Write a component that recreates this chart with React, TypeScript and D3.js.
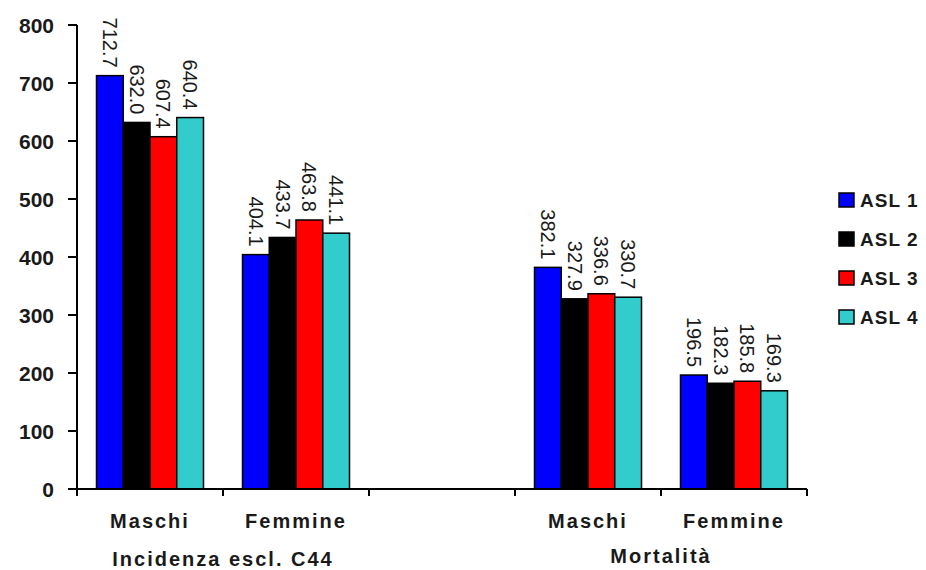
import React from "react";
import * as d3 from "d3";

// Rates per 100,000 by ASL, two sex groups for incidence and mortality
const categories = ["Maschi", "Femmine", "", "Maschi ", "Femmine "];
const groupLabels = ["Incidenza escl. C44", "Mortalità"];
const series = ["ASL 1", "ASL 2", "ASL 3", "ASL 4"];
const colors = ["#0000ff", "#000000", "#ff0000", "#33cccc"];

const asl1 = [712.7, 404.1, null, 382.1, 196.5];
const asl2 = [632.0, 433.7, null, 327.9, 182.3];
const asl3 = [607.4, 463.8, null, 336.6, 185.8];
const asl4 = [640.4, 441.1, null, 330.7, 169.3];
const values = [asl1, asl2, asl3, asl4];

const yTicks = [0, 100, 200, 300, 400, 500, 600, 700, 800];

const W = 926;
const H = 570;
const FONT = "'Liberation Sans', Arial, sans-serif";
const INK = "#1a1a1a";

export default function App() {
  const x0 = d3.scaleBand<string>().domain(categories).range([77, 807]).padding(0);
  const bw = x0.bandwidth();
  const x1 = d3.scaleBand<string>().domain(series).range([19.5, bw - 19.5]).padding(0);
  const y = d3.scaleLinear().domain([0, 800]).range([489, 25]);

  const axisX = x0.range()[0];
  const baseY = y(0);
  const boundaries = [...categories.map((c) => x0(c) as number), x0.range()[1]];

  const groupCenters = [
    ((x0(categories[0]) as number) + (x0(categories[1]) as number) + bw) / 2,
    ((x0(categories[3]) as number) + (x0(categories[4]) as number) + bw) / 2,
  ];

  return (
    <svg width={W} height={H} style={{ position: "absolute", left: 0, top: 0, background: "#fff" }} fontFamily={FONT}>
      {/* bars */}
      {values.map((vals, si) =>
        vals.map((v, ci) => {
          if (v == null) return null;
          const bx = (x0(categories[ci]) as number) + (x1(series[si]) as number);
          const by = y(v);
          const cx = bx + x1.bandwidth() / 2;
          return (
            <g key={`${si}-${ci}`}>
              <rect
                x={bx}
                y={by}
                width={x1.bandwidth()}
                height={baseY - by}
                fill={colors[si]}
                stroke="#000"
                strokeWidth={1.5}
              />
              <text
                transform={`translate(${cx},${by - 8}) rotate(90)`}
                textAnchor="end"
                dominantBaseline="central"
                fontSize={20}
                fill={INK}
              >
                {v.toFixed(1)}
              </text>
            </g>
          );
        })
      )}

      {/* y axis */}
      <line x1={axisX} x2={axisX} y1={y(800)} y2={baseY} stroke="#000" strokeWidth={2} />
      {yTicks.map((t) => (
        <g key={t}>
          <line x1={axisX - 9} x2={axisX} y1={y(t)} y2={y(t)} stroke="#000" strokeWidth={2} />
          <text x={54} y={y(t)} textAnchor="end" dominantBaseline="central" fontSize={21} fontWeight="bold" fill={INK}>
            {t}
          </text>
        </g>
      ))}

      {/* x axis */}
      <line x1={axisX} x2={x0.range()[1]} y1={baseY} y2={baseY} stroke="#000" strokeWidth={2} />
      {boundaries.map((b, i) => (
        <line key={i} x1={b} x2={b} y1={baseY} y2={baseY + 7} stroke="#000" strokeWidth={2} />
      ))}
      {categories.map((c) =>
        c.trim() === "" ? null : (
          <text
            key={c}
            x={(x0(c) as number) + bw / 2}
            y={528}
            textAnchor="middle"
            fontSize={20}
            fontWeight="bold"
            letterSpacing={2}
            fill={INK}
          >
            {c.trim()}
          </text>
        )
      )}
      {groupLabels.map((g, i) => (
        <text
          key={g}
          x={groupCenters[i]}
          y={i === 0 ? 566 : 563}
          textAnchor="middle"
          fontSize={20}
          fontWeight="bold"
          letterSpacing={2}
          fill={INK}
        >
          {g}
        </text>
      ))}

      {/* legend */}
      {series.map((s, i) => {
        const ly = 200 + i * 39;
        return (
          <g key={s}>
            <rect x={839} y={ly - 7} width={15} height={14} fill={colors[i]} stroke="#000" strokeWidth={1.5} />
            <text x={860} y={ly} dominantBaseline="central" fontSize={19} fontWeight="bold" letterSpacing={1} fill={INK}>
              {s}
            </text>
          </g>
        );
      })}
    </svg>
  );
}
